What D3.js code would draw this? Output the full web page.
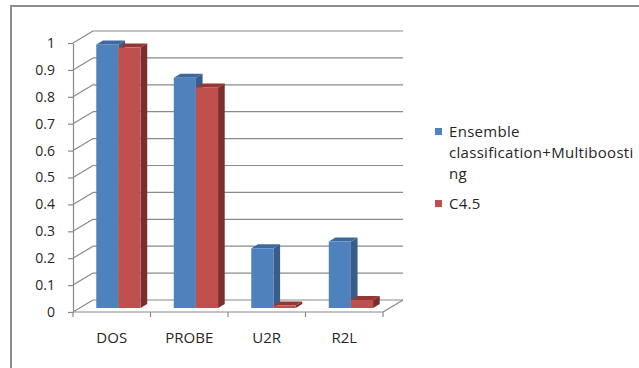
<!DOCTYPE html>
<html>
<head>
<meta charset="utf-8">
<script src="https://cdn.jsdelivr.net/npm/d3@7"></script>
<style>
  html, body { margin: 0; padding: 0; background: #fff; }
  svg { display: block; }
  text { font-family: "Open Sans", "Liberation Sans", sans-serif; fill: #262626; }
</style>
</head>
<body>
<svg id="chart" width="639" height="368"></svg>
<script>
// Detection rate per attack class for the two classifiers
const categories = ["DOS", "PROBE", "U2R", "R2L"];
const seriesNames = ["Ensemble classification+Multiboosting", "C4.5"];
const ensembleValues = [0.98, 0.856, 0.222, 0.247];
const c45Values = [0.968, 0.82, 0.009, 0.03];
const yTicks = [0, 0.1, 0.2, 0.3, 0.4, 0.5, 0.6, 0.7, 0.8, 0.9, 1];
const legendLines = [["Ensemble", "classification+Multiboosti", "ng"], ["C4.5"]];

const faceColors = [
  { front: "#4f81bd", top: "#3c6aa0", side: "#385d8a" },
  { front: "#c0504d", top: "#953735", side: "#7b2e2c" }
];
const gridColor = "#8a8a8a";

const svg = d3.select("#chart");

// Frame around the chart area
svg.append("rect")
  .attr("x", 11).attr("y", 6)
  .attr("width", 700).attr("height", 500)
  .attr("fill", "none").attr("stroke", "#8c8c8c").attr("stroke-width", 2);

// Front plane of the 3-D box
const x = d3.scaleBand().domain(categories).range([73, 383]).paddingInner(0).paddingOuter(0);
const y = d3.scaleLinear().domain([0, 1]).range([312, 43]);
const depth = { dx: 20, dy: -12 };       // full depth of the box
const barDepth = [1 / 3, 2 / 3];         // bars sit in the middle third

const g = svg.append("g");

// Back wall gridlines
g.selectAll("line.grid").data(yTicks).join("line")
  .attr("x1", x.range()[0] + depth.dx).attr("x2", x.range()[1] + depth.dx)
  .attr("y1", d => y(d) + depth.dy).attr("y2", d => y(d) + depth.dy)
  .attr("stroke", gridColor).attr("stroke-width", 1.2);

// Left wall gridlines (running into depth)
g.selectAll("line.wall").data(yTicks).join("line")
  .attr("x1", x.range()[0]).attr("y1", d => y(d))
  .attr("x2", x.range()[0] + depth.dx).attr("y2", d => y(d) + depth.dy)
  .attr("stroke", gridColor).attr("stroke-width", 1.2);

// Floor: front edge and right edge
g.append("line")
  .attr("x1", x.range()[0]).attr("x2", x.range()[1])
  .attr("y1", y(0)).attr("y2", y(0))
  .attr("stroke", gridColor).attr("stroke-width", 1.2);
g.append("line")
  .attr("x1", x.range()[1]).attr("y1", y(0))
  .attr("x2", x.range()[1] + depth.dx).attr("y2", y(0) + depth.dy)
  .attr("stroke", gridColor).attr("stroke-width", 1.2);

// Bars
const barW = x.bandwidth() / 3.5;
const f0 = barDepth[0], f1 = barDepth[1];
const ox0 = depth.dx * f0, oy0 = depth.dy * f0;
const ox1 = depth.dx * f1, oy1 = depth.dy * f1;
const series = [ensembleValues, c45Values];

categories.forEach((cat, ci) => {
  const cx = x(cat) + x.bandwidth() / 2 + ox0;
  series.forEach((vals, si) => {
    const v = vals[ci];
    const xl = cx - barW + si * barW;
    const xr = xl + barW;
    const yt = y(v) + oy0;
    const yb = y(0) + oy0;
    const dx = ox1 - ox0, dy = oy1 - oy0;
    const col = faceColors[si];
    const bar = g.append("g");
    // side face
    bar.append("path")
      .attr("d", `M${xr},${yt}L${xr + dx},${yt + dy}L${xr + dx},${yb + dy}L${xr},${yb}Z`)
      .attr("fill", col.side);
    // top face
    bar.append("path")
      .attr("d", `M${xl},${yt}L${xl + dx},${yt + dy}L${xr + dx},${yt + dy}L${xr},${yt}Z`)
      .attr("fill", col.top);
    // front face
    bar.append("rect")
      .attr("x", xl).attr("y", yt)
      .attr("width", barW).attr("height", yb - yt)
      .attr("fill", col.front);
  });
});

// Value axis on the front-left edge
const yAxis = d3.axisLeft(y).tickValues(yTicks).tickFormat(d => String(d))
  .tickSize(5).tickSizeOuter(0).tickPadding(13);
const ya = svg.append("g").attr("transform", `translate(${x.range()[0]},0)`).call(yAxis);
ya.select(".domain").attr("stroke", gridColor).attr("stroke-width", 1.2);
ya.selectAll(".tick line").attr("stroke", gridColor).attr("stroke-width", 1.2);
ya.selectAll(".tick text").attr("font-size", 14).attr("font-family", null).attr("fill", "#262626");

// Category axis along the front floor edge
const xAxis = d3.axisBottom(x).tickSize(0).tickSizeOuter(0).tickPadding(20);
const xa = svg.append("g").attr("transform", `translate(0,${y(0)})`).call(xAxis);
xa.select(".domain").remove();
xa.selectAll(".tick text").attr("font-size", 15).attr("font-family", null).attr("fill", "#262626");
const bounds = categories.map(c => x(c)).concat([x.range()[1]]);
xa.selectAll("line.bound").data(bounds).join("line")
  .attr("x1", d => d).attr("x2", d => d)
  .attr("y1", 0).attr("y2", 5)
  .attr("stroke", gridColor).attr("stroke-width", 1.2);

// Legend
const legend = svg.append("g").attr("transform", "translate(435,0)");
const legendTop = [132, 204];
legendLines.forEach((lines, i) => {
  legend.append("rect")
    .attr("x", 0).attr("y", legendTop[i] - 4)
    .attr("width", 7).attr("height", 7)
    .attr("fill", faceColors[i].front);
  const t = legend.append("text")
    .attr("x", 14).attr("y", legendTop[i])
    .attr("font-size", 15)
    .attr("letter-spacing", 0.3);
  lines.forEach((ln, li) => {
    t.append("tspan").attr("x", 14).attr("dy", li === 0 ? "0.35em" : 21).text(ln);
  });
});
</script>
</body>
</html>
